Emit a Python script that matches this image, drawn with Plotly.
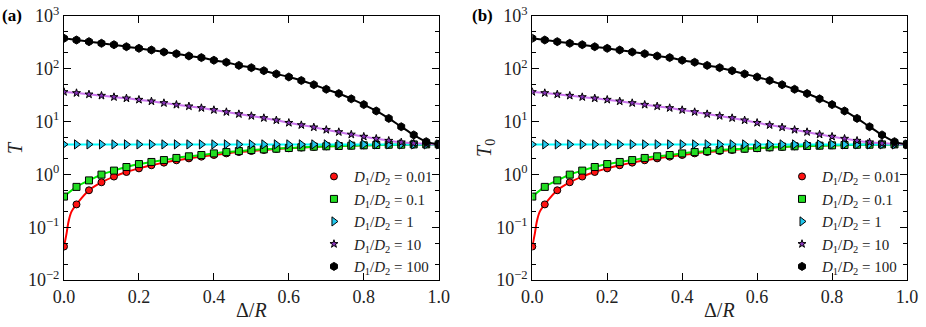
import plotly.graph_objects as go
from plotly.subplots import make_subplots

# Delta/R sample points (31 points, 0 .. 1)
x_pts = [i / 30 for i in range(31)]

# D1/D2 = 0.01
t_001 = [0.043, 0.27, 0.50, 0.71, 0.91, 1.11, 1.30, 1.49, 1.67, 1.85, 2.01,
         2.17, 2.33, 2.50, 2.65, 2.77, 2.90, 3.03, 3.12, 3.22, 3.30, 3.40,
         3.45, 3.50, 3.55, 3.60, 3.63, 3.65, 3.68, 3.70, 3.70]
x_001_curve = [0.0, 0.007, 0.012, 0.020]
t_001_curve = [0.043, 0.077, 0.127, 0.197]
# D1/D2 = 0.1
t_01 = [0.38, 0.58, 0.77, 0.99, 1.18, 1.38, 1.57, 1.72, 1.87, 2.05, 2.20,
        2.33, 2.50, 2.65, 2.77, 2.90, 2.98, 3.07, 3.16, 3.26, 3.35, 3.40,
        3.45, 3.50, 3.55, 3.60, 3.65, 3.65, 3.70, 3.70, 3.70]
# D1/D2 = 1
t_1 = [3.7] * 31
# D1/D2 = 10
t_10 = [36.4, 34.8, 32.8, 31.0, 29.2, 27.6, 26.0, 24.2, 22.5, 20.9, 19.5,
        18.1, 16.6, 15.2, 13.9, 12.8, 11.7, 10.6, 9.5, 8.6, 7.8, 7.0,
        6.35, 5.7, 5.2, 4.75, 4.35, 4.05, 3.87, 3.76, 3.70]
# D1/D2 = 100
t_100 = [378, 351, 327, 304, 286, 262, 244, 227, 208, 193, 175,
         163, 145, 133, 116, 105, 92, 80, 70, 60, 50, 41,
         34, 27, 21, 15.9, 11.5, 8.0, 5.6, 4.17, 3.70]

ratios = ["0.01", "0.1", "1", "10", "100"]
series = [t_001, t_01, t_1, t_10, t_100]

y_tickvals = [0.01, 0.1, 1, 10, 100, 1000]
y_ticktext = ["10<sup>−2</sup>", "10<sup>−1</sup>", "10<sup>0</sup>",
              "10<sup>1</sup>", "10<sup>2</sup>", "10<sup>3</sup>"]

line_colors = ["#ff0000", "#00ee00", "#00ffff", "#cc77ee", "#000000"]
fill_colors = ["#ff1111", "#22dd22", "#22c8ee", "#8833bb", "#000000"]
symbols = ["circle", "square", "triangle-right", "star", "hexagon"]
sizes = [7, 7, 8, 6, 8]

font = "Liberation Serif"
title_font = dict(family=font, size=20, color="#222")

fig = make_subplots(rows=1, cols=2, horizontal_spacing=0.111)

for col in (1, 2):
    for k, (r, ys) in enumerate(zip(ratios, series)):
        if k == 0:
            lx = x_001_curve + x_pts[1:]
            ly = t_001_curve + ys[1:]
        else:
            lx, ly = x_pts, ys
        fig.add_trace(go.Scatter(
            x=lx, y=ly, mode="lines", line=dict(color=line_colors[k], width=2, shape="spline"),
            showlegend=False, hoverinfo="skip"), row=1, col=col)
    for k, (r, ys) in enumerate(zip(ratios, series)):
        fig.add_trace(go.Scatter(
            x=x_pts, y=ys, mode="markers",
            marker=dict(symbol=symbols[k], size=sizes[k], color=fill_colors[k],
                        line=dict(color="black", width=1)),
            name="<i>D</i><sub>1</sub>/<i>D</i><sub>2</sub> = " + r,
            legend="legend" if col == 1 else "legend2",
            showlegend=True), row=1, col=col)

axis_common = dict(showline=True, linecolor="black", linewidth=1.2, mirror="ticks",
                   ticks="inside", tickcolor="black", ticklen=7, automargin=False,
                   tickfont=dict(family=font, size=18, color="#222"),
                   showgrid=False, zeroline=False)

for col in (1, 2):
    fig.update_xaxes(range=[0, 1], dtick=0.2, tickformat=".1f",
                     **axis_common, row=1, col=col)
    fig.update_yaxes(type="log", range=[-2, 3], tickvals=y_tickvals, ticktext=y_ticktext,
                     minor=dict(ticks="inside", ticklen=4, tickcolor="black", showgrid=False),
                     **axis_common, row=1, col=col)

# axis titles placed as annotations for exact positioning
for xc in (0.2224, 0.7781):
    fig.add_annotation(text="Δ/<i>R</i>", xref="paper", yref="paper", x=xc, y=-0.114,
                       xanchor="center", yanchor="middle", showarrow=False, font=title_font)
fig.add_annotation(text="<i>T</i>", xref="paper", yref="paper", x=-0.058, y=0.5,
                   textangle=-90, xanchor="center", yanchor="middle", showarrow=False,
                   font=title_font)
fig.add_annotation(text="<i>T</i><sub>0</sub>", xref="paper", yref="paper", x=0.4994, y=0.5,
                   textangle=-90, xanchor="center", yanchor="middle", showarrow=False,
                   font=title_font)

legend_common = dict(bgcolor="rgba(0,0,0,0)", borderwidth=0,
                     font=dict(family=font, size=15, color="#222"),
                     tracegroupgap=0, itemsizing="trace", itemwidth=30,
                     xanchor="right", yanchor="bottom", y=-0.012)
fig.update_layout(
    legend=dict(x=0.4448, **legend_common),
    legend2=dict(x=1.0, **legend_common),
)

fig.add_annotation(text="<b>(a)</b>", xref="paper", yref="paper", x=-0.076, y=1.047,
                   xanchor="left", yanchor="top", showarrow=False,
                   font=dict(family=font, size=17, color="black"))
fig.add_annotation(text="<b>(b)</b>", xref="paper", yref="paper", x=0.4816, y=1.047,
                   xanchor="left", yanchor="top", showarrow=False,
                   font=dict(family=font, size=17, color="black"))

fig.update_layout(
    width=926, height=327,
    margin=dict(l=64, r=19, t=16, b=47),
    paper_bgcolor="white", plot_bgcolor="white",
)

# drop the browser's default body margin so the figure sits at the page corner
fig.write_html("out.html", config={"displayModeBar": False},
               post_script="document.body.style.margin='0';")
